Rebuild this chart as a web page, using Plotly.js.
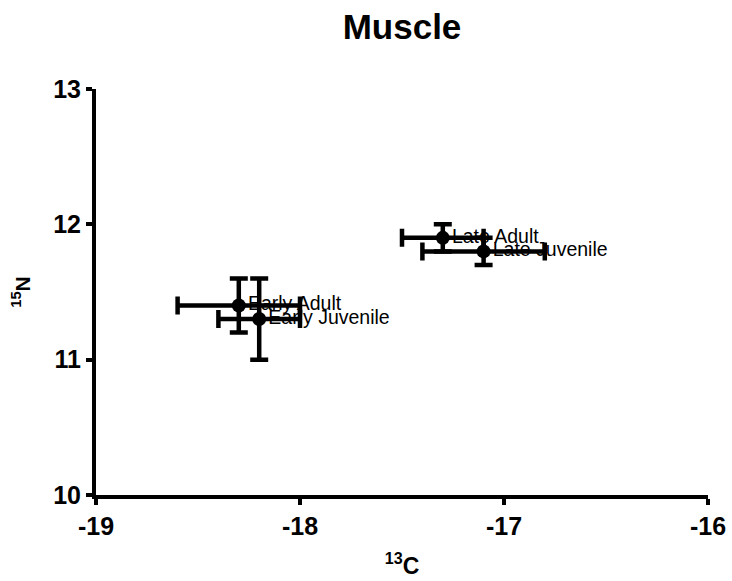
<!DOCTYPE html>
<html>
<head>
<meta charset="utf-8">
<script src="https://cdn.plot.ly/plotly-3.0.1.min.js"></script>
<style>html,body{margin:0;padding:0;background:#fff;}#chart{width:732px;height:581px;}</style>
</head>
<body>
<div id="chart"></div>
<script>
const categories = ['Early Adult', 'Early Juvenile', 'Late Adult', 'Late Juvenile'];
const c13 = [-18.3, -18.2, -17.3, -17.1];
const n15 = [11.4, 11.3, 11.9, 11.8];
const c13err = [0.3, 0.2, 0.2, 0.3];
const n15err = [0.2, 0.3, 0.1, 0.1];
const xTicks = [-19, -18, -17, -16];
const yTicks = [10, 11, 12, 13];

const FONT = 'Arial, "Liberation Sans", Helvetica, sans-serif';

const labelTrace = {
  x: c13, y: n15, text: categories,
  type: 'scatter', mode: 'markers+text',
  textposition: 'middle right',
  textfont: {family: FONT, size: 19.5, color: '#000'},
  marker: {size: 13, opacity: 0},
  hoverinfo: 'skip', showlegend: false
};

const dataTraces = categories.map((c, i) => ({
  x: [c13[i]], y: [n15[i]], name: c,
  type: 'scatter', mode: 'markers',
  marker: {size: 14, color: '#000'},
  error_x: {type: 'data', array: [c13err[i]], visible: true, color: '#000', thickness: 4.5, width: 9},
  error_y: {type: 'data', array: [n15err[i]], visible: true, color: '#000', thickness: 4.5, width: 9},
  showlegend: false
}));

const layout = {
  width: 732, height: 581,
  margin: {l: 96, r: 24, t: 89, b: 86},
  paper_bgcolor: '#fff', plot_bgcolor: '#fff',
  font: {family: FONT, color: '#000'},
  showlegend: false,
  title: {
    text: '<b>Muscle</b>', font: {family: FONT, size: 35, color: '#000'},
    x: 0.5, xref: 'paper', y: 1 - 27/581, yref: 'container', yanchor: 'middle'
  },
  xaxis: {
    range: [-19, -16], tickvals: xTicks, ticktext: xTicks.map(v => '<b>' + v + '</b>'),
    showline: true, linewidth: 4, linecolor: '#000', mirror: false,
    ticks: 'outside', ticklen: 6, tickwidth: 4, tickcolor: '#000',
    showgrid: false, zeroline: false,
    tickfont: {family: FONT, size: 25, color: '#000'},
    title: {text: '<b><sup>13</sup>C</b>', font: {family: FONT, size: 23, color: '#000'}, standoff: 20}
  },
  yaxis: {
    range: [10, 13], tickvals: yTicks, ticktext: yTicks.map(v => '<b>' + v + '</b>'),
    showline: true, linewidth: 4, linecolor: '#000', mirror: false,
    ticks: 'outside', ticklen: 6, tickwidth: 4, tickcolor: '#000',
    showgrid: false, zeroline: false,
    tickfont: {family: FONT, size: 25, color: '#000'},
    title: {text: '<b><sup>15</sup>N</b>', font: {family: FONT, size: 21, color: '#000'}, standoff: 18}
  }
};

Plotly.newPlot('chart', [labelTrace].concat(dataTraces), layout, {displayModeBar: false, staticPlot: true});
</script>
</body>
</html>
